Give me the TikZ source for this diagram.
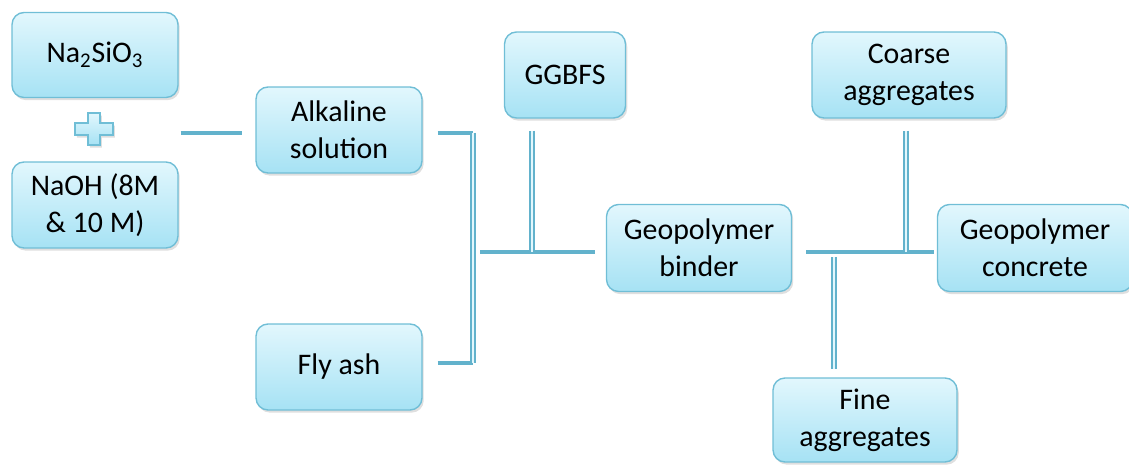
\documentclass[tikz,border=0pt]{standalone}
\usepackage{fontspec}
\setmainfont{Carlito}
\usepackage{xcolor}
\usepackage{tikz}
\usetikzlibrary{positioning, calc, shadows}
\definecolor{boxtop}{RGB}{226,247,253}
\definecolor{boxbot}{RGB}{166,226,244}
\definecolor{boxline}{RGB}{112,190,214}
\definecolor{linkblue}{RGB}{98,178,204}

\begin{document}
\begin{tikzpicture}[x=0.02cm, y=-0.02cm,
  font=\fontsize{17}{21}\selectfont,
  stage/.style={draw=boxline, line width=0.8pt, top color=boxtop, bottom color=boxbot,
    rounded corners=0.24cm, align=center, inner sep=0pt,
    drop shadow={opacity=0.25, shadow xshift=1pt, shadow yshift=-1.5pt}},
  link/.style={draw=linkblue, line width=2.2pt},
  dlink/.style={draw=linkblue, line width=1pt, double=boxtop, double distance=1.6pt}]
  \useasboundingbox (0,0) rectangle (1129,465);

  % raw materials
  \node[stage, minimum width=3.32cm, minimum height=1.7cm] (NS) at (95,55) {Na\textsubscript{2}SiO\textsubscript{3}};
  \node[stage, minimum width=3.32cm, minimum height=1.72cm] (NaOH) at (95,205) {NaOH (8M\\\& 10 M)};
  \coordinate (plus) at (94,129);
  \draw[boxline, line width=0.8pt, top color=boxtop, bottom color=boxbot,
        drop shadow={opacity=0.25, shadow xshift=1pt, shadow yshift=-1.5pt}]
    ($(plus)+(-6,-16)$) -- ++(12,0) -- ++(0,10) -- ++(13,0) -- ++(0,12) -- ++(-13,0)
    -- ++(0,10) -- ++(-12,0) -- ++(0,-10) -- ++(-13,0) -- ++(0,-12) -- ++(13,0) -- cycle;

  \node[stage, minimum width=3.32cm, minimum height=1.72cm] (AS) at (339,130) {Alkaline\\solution};
  \node[stage, minimum width=3.32cm, minimum height=1.72cm] (FA) at (339,367) {Fly ash};
  \node[stage, minimum width=2.42cm, minimum height=1.72cm] (GG) at (565,75) {GGBFS};
  \node[stage, minimum width=3.7cm, minimum height=1.74cm] (GB) at (699,248) {Geopolymer\\binder};
  \node[stage, minimum width=3.88cm, minimum height=1.72cm] (CA) at (909,75) {Coarse\\aggregates};
  \node[stage, minimum width=3.9cm, minimum height=1.74cm] (GC) at (1035,248) {Geopolymer\\concrete};
  \node[stage, minimum width=3.68cm, minimum height=1.68cm] (FG) at (865,420) {Fine\\aggregates};

  % junctions
  \coordinate (bt) at (473,133);
  \coordinate (bb) at (473,363);
  \coordinate (mj) at (532,252);
  \coordinate (rj) at (906,252);
  \coordinate (fj) at (834,257);

  % connectors
  \draw[link] ([xshift=0.04cm]NaOH.east |- 0,133) -- ([xshift=-0.26cm]AS.west |- 0,133);
  \draw[link] ([xshift=0.3cm]AS.east |- bt) -- (bt);
  \draw[link] ([xshift=0.3cm]FA.east |- bb) -- (bb);
  \draw[dlink] (bt) -- (bb);
  \draw[link] ([xshift=0.14cm]bt |- mj) -- ([xshift=-0.22cm]GB.west |- mj);
  \draw[dlink] ([yshift=-0.24cm]mj |- GG.south) -- (mj);
  \draw[link] ([xshift=0.28cm]GB.east |- rj) -- ([xshift=-0.06cm]GC.west |- rj);
  \draw[dlink] ([yshift=-0.24cm]rj |- CA.south) -- (rj);
  \draw[dlink] (fj) -- ([yshift=0.16cm]fj |- FG.north);
\end{tikzpicture}
\end{document}
